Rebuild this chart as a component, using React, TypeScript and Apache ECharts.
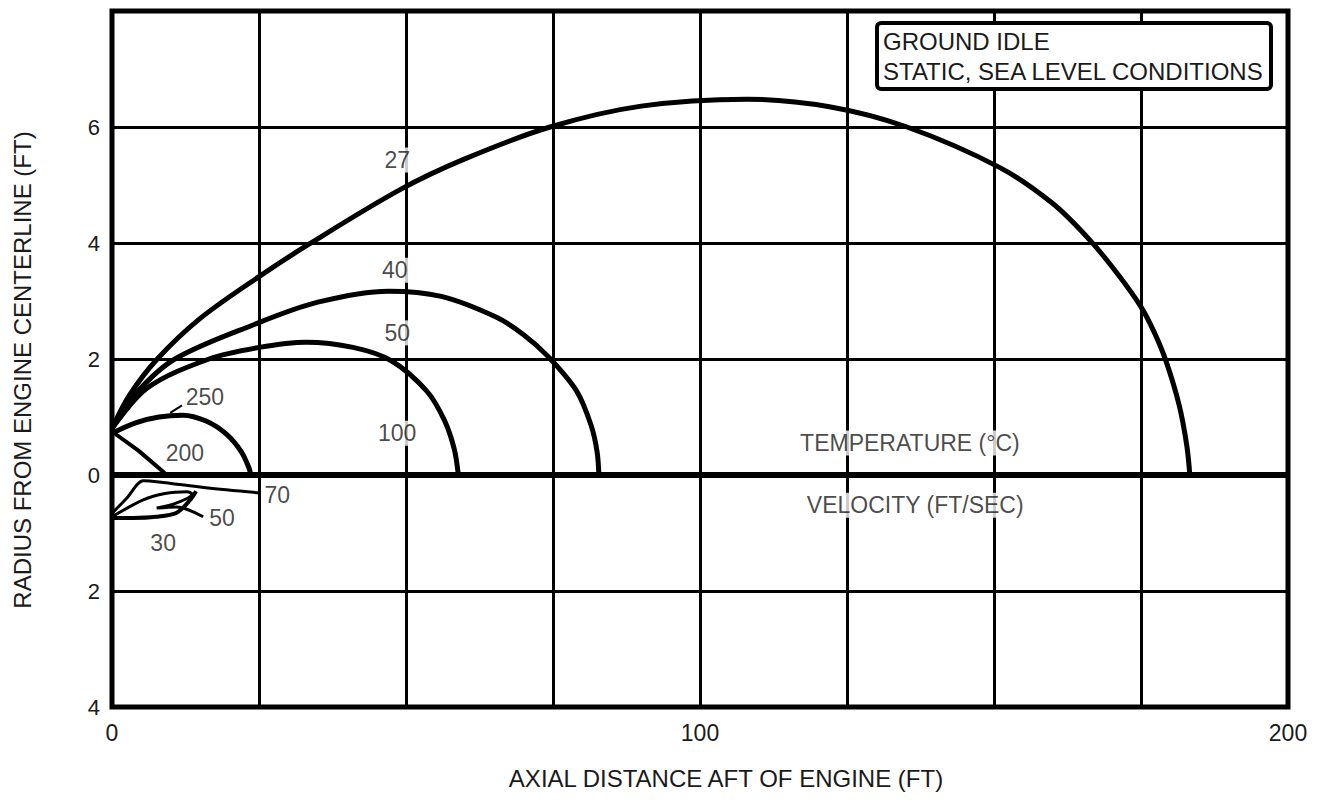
import React, { useEffect, useRef } from "react";
import * as echarts from "echarts";

const FONT = "'Liberation Sans', Arial, Helvetica, sans-serif";

// Temperature contours (above centerline): [axial ft, radius ft]
const temp27: number[][] = [
  [0, 0.8], [3, 1.38], [7.7, 2.0], [15, 2.7], [25, 3.42], [33.5, 3.98], [49, 4.92],
  [60, 5.45], [74.5, 6.0], [90, 6.36], [108, 6.48], [122, 6.35], [135.2, 6.0],
  [151, 5.3], [160, 4.68], [166.3, 4.05], [171, 3.47], [175, 2.9], [177.3, 2.45],
  [179.3, 1.95], [181.5, 1.2], [182.8, 0.5], [183.3, 0],
];
const temp40: number[][] = [
  [0, 0.8], [4, 1.4], [10.7, 2.0], [24.3, 2.6], [35, 2.98], [47, 3.17], [56, 3.08],
  [65.4, 2.72], [70, 2.42], [74.1, 2.05], [79, 1.45], [81.5, 0.85], [82.5, 0.4], [82.8, 0],
];
const temp50: number[][] = [
  [0, 0.8], [6, 1.5], [16.5, 2.0], [25, 2.2], [33, 2.29], [41, 2.2], [47.5, 1.97],
  [53.5, 1.45], [56.5, 0.95], [58.2, 0.45], [58.9, 0],
];
const temp250: number[][] = [
  [0, 0.72], [4, 0.9], [8, 1.0], [12, 1.03], [16, 0.93], [19.5, 0.7], [22, 0.4],
  [23.3, 0.12], [23.6, 0],
];
const temp200: number[][] = [[0, 0.75], [4.5, 0.42], [9, 0.03]];
const lead250: number[][] = [[9.9, 1.07], [11.9, 1.2]];

// Velocity contours (below centerline, plotted as negative radius)
const vel70: number[][] = [[0, -0.66], [2.5, -0.4], [5.3, -0.1], [8, -0.12], [16, -0.22], [25.2, -0.31]];
const vel50: number[][] = [
  [0, -0.72], [5.3, -0.43], [9, -0.32], [12.8, -0.29], [13.6, -0.33], [11, -0.48],
  [7.6, -0.57], [11, -0.55], [15.5, -0.72],
];
const vel30: number[][] = [[0, -0.74], [3.5, -0.74], [7.5, -0.72], [11, -0.65], [13.3, -0.43], [14.3, -0.28]];
const centerline: number[][] = [[0, 0], [200, 0]];

// Curve labels: [x, y, text]
const labelsBoxed: [number, number, string][] = [
  [48.5, 5.43, "27"], [48.1, 3.53, "40"], [48.5, 2.45, "50"], [48.5, 0.72, "100"],
  [135.7, 0.55, "TEMPERATURE (°C)"], [136.6, -0.52, "VELOCITY (FT/SEC)"],
];
const labelsPlain: [number, number, string][] = [
  [15.8, 1.34, "250"], [12.4, 0.38, "200"], [28.1, -0.34, "70"], [18.7, -0.74, "50"], [8.7, -1.17, "30"],
];

const xTicks = [0, 100, 200];

export default function App() {
  const ref = useRef<HTMLDivElement>(null);
  useEffect(() => {
    if (!ref.current) return;
    const chart = echarts.init(ref.current, undefined, { renderer: "svg" });
    const curve = (data: number[][], width = 5, smooth = 0.33) => ({
      type: "line", data, smooth, showSymbol: false, symbol: "none",
      lineStyle: { color: "#000", width }, z: 3, silent: true,
    });
    const labelSeries = (arr: [number, number, string][], boxed: boolean, size: number) => ({
      type: "scatter", symbolSize: 0, z: 5, silent: true,
      data: arr.map((d) => ({ value: [d[0], d[1]], name: d[2] })),
      label: {
        show: true, position: "inside", formatter: (p: any) => p.name,
        fontFamily: FONT, fontSize: size, color: "#1a1a1a",
        backgroundColor: boxed ? "#fff" : "transparent", padding: boxed ? [1, 3] : 0,
      },
    });
    chart.setOption({
      animation: false,
      backgroundColor: "#fff",
      title: {
        text: "GROUND IDLE\nSTATIC, SEA LEVEL CONDITIONS",
        left: 877, top: 23,
        textStyle: { fontFamily: FONT, fontSize: 24, fontWeight: "normal", color: "#1a1a1a", lineHeight: 30 },
        borderWidth: 4, borderColor: "#000", borderRadius: 4, backgroundColor: "#fff",
        padding: [3, 6, 3, 6], z: 10,
      },
      grid: {
        left: 112, right: 32, top: 11, bottom: 95,
        containLabel: false, outerBoundsMode: "none",
        show: true, borderColor: "#000", borderWidth: 5, backgroundColor: "transparent", z: 4,
      },
      xAxis: {
        type: "value", min: 0, max: 200, interval: 25,
        name: "AXIAL DISTANCE AFT OF ENGINE (FT)", nameLocation: "middle", nameGap: 59,
        nameTextStyle: { fontFamily: FONT, fontSize: 24, color: "#1a1a1a", padding: [0, 0, 0, 52] },
        axisLine: { show: false }, axisTick: { show: false },
        axisLabel: {
          fontFamily: FONT, fontSize: 23, color: "#1a1a1a", margin: 14,
          formatter: (v: number) => (xTicks.includes(v) ? String(v) : ""),
        },
        splitLine: { show: true, lineStyle: { color: "#000", width: 3 } },
      },
      yAxis: {
        type: "value", min: -4, max: 8, interval: 2,
        name: "RADIUS FROM ENGINE CENTERLINE (FT)", nameLocation: "middle", nameGap: 78,
        nameTextStyle: { fontFamily: FONT, fontSize: 24, color: "#1a1a1a", padding: [0, 22, 0, 0] },
        axisLine: { show: false }, axisTick: { show: false },
        axisLabel: {
          fontFamily: FONT, fontSize: 22, color: "#1a1a1a", margin: 12,
          formatter: (v: number) => (v === 8 ? "" : String(Math.abs(v))),
        },
        splitLine: { show: true, lineStyle: { color: "#000", width: 3 } },
      },
      series: [
        curve(centerline, 6, 0),
        curve(temp27), curve(temp40), curve(temp50), curve(temp250), curve(temp200, 4, 0),
        curve(lead250, 2, 0),
        curve(vel70, 3, 0.3), curve(vel50, 3, 0.3), curve(vel30, 4, 0.3),
        labelSeries(labelsBoxed, true, 23),
        labelSeries(labelsPlain, false, 23),
      ],
    });
    return () => chart.dispose();
  }, []);
  return (
    <div
      ref={ref}
      style={{ position: "absolute", left: 0, top: 0, width: 1320, height: 802 }}
    />
  );
}
